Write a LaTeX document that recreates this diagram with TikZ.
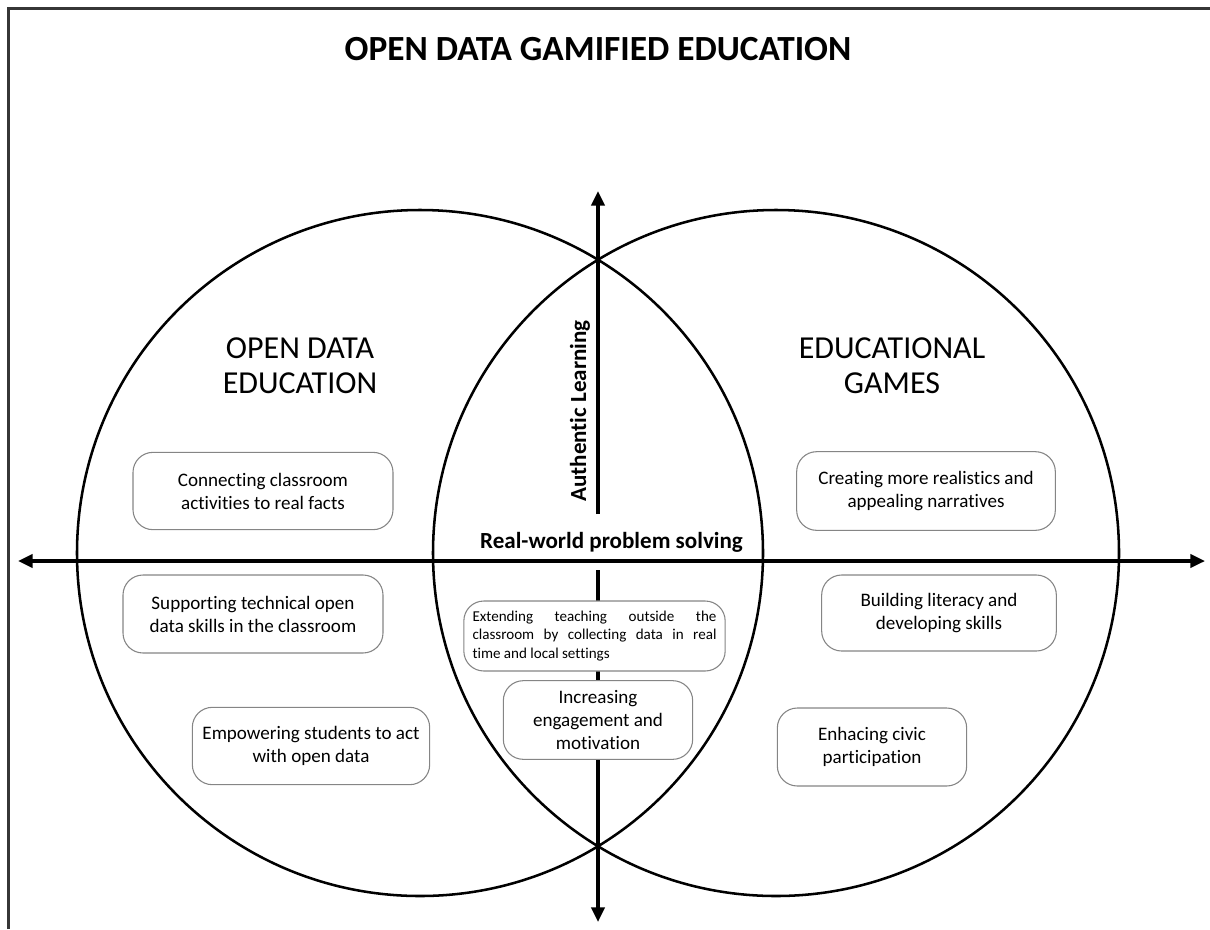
\documentclass[tikz,border=0pt]{standalone}
\usepackage{fontspec}
\setmainfont{Carlito}[Ligatures=NoCommon]
\usetikzlibrary{arrows.meta}
\definecolor{framegray}{HTML}{363636}
\definecolor{boxgray}{HTML}{858585}
\begin{document}
\begin{tikzpicture}[x=0.75pt,y=-0.75pt,
  axis/.style={line width=2.4pt, line cap=butt},
  ring/.style={line width=1.9pt},
  rbox/.style={draw=boxgray, line width=0.8pt, rounded corners=15pt, fill=white,
    align=center, inner sep=0pt, font=\fontsize{14.3}{17.3}\selectfont},
  heading/.style={align=center, font=\fontsize{24}{26}\selectfont},
  axlabel/.style={font=\bfseries\fontsize{17.3}{20}\selectfont}
]
\useasboundingbox (0,0) rectangle (1210,929);
% frame
\coordinate (fb) at (8.5,929); \coordinate (fc) at (8.5,8.5); \coordinate (fr) at (1210,8.5);
\draw[framegray, line width=2.2pt] (fb) -- (fc) -- (fr);
% circles
\coordinate (lc) at (420,553); \coordinate (rc) at (776,553);
\draw[ring] (lc) circle[radius=343];
\draw[ring] (rc) circle[radius=343];
% axes
\coordinate (hl) at (18,561); \coordinate (hr) at (1205,561);
\draw[axis, {Triangle[length=11pt,width=10pt]}-{Triangle[length=11pt,width=10pt]}] (hl) -- (hr);
\coordinate (vt) at (598,191); \coordinate (vu) at (598,514);
\coordinate (vd) at (598,570); \coordinate (vb) at (598,922);
\draw[axis, -{Triangle[length=11pt,width=10pt]}] (vu) -- (vt);
\draw[axis, -{Triangle[length=11pt,width=10pt]}] (vd) -- (vb);
% title and headings
\node[font=\bfseries\fontsize{26.5}{30}\selectfont] (title) at (598,49) {OPEN DATA GAMIFIED EDUCATION};
\node[heading] (ode) at (300,366) {OPEN DATA\\EDUCATION};
\node[heading] (eg) at (892,366) {EDUCATIONAL\\GAMES};
\node[axlabel] (rw) at (611.5,542) {Real-world problem solving};
\node[axlabel, rotate=90] (al) at (580,411) {Authentic Learning};
% boxes
\node[rbox, minimum width=195pt, minimum height=58pt] (b1) at (263,491) {Connecting classroom\\activities to real facts};
\node[rbox, minimum width=195pt, minimum height=58.5pt] (b2) at (253,614) {Supporting technical open\\data skills in the classroom};
\node[rbox, minimum width=178pt, minimum height=58pt] (b3) at (311,746) {Empowering students to act\\with open data};
\node[rbox, minimum width=194pt, minimum height=59pt] (b4) at (926,491) {Creating more realistics and\\appealing narratives};
\node[rbox, minimum width=176pt, minimum height=57pt] (b5) at (939,613) {Building literacy and\\developing skills};
\node[rbox, minimum width=142pt, minimum height=58.5pt] (b6) at (872,747) {Enhacing civic\\participation};
\node[rbox, minimum width=196pt, minimum height=52.5pt, font=\fontsize{11.3}{13.9}\selectfont] (b7) at (594.5,636)
  {\parbox{183pt}{Extending teaching outside the\linebreak classroom by collecting data in real\linebreak time and local settings}};
\node[rbox, minimum width=142pt, minimum height=59pt] (b8) at (598,720) {Increasing\\engagement and\\motivation};
\end{tikzpicture}
\end{document}
